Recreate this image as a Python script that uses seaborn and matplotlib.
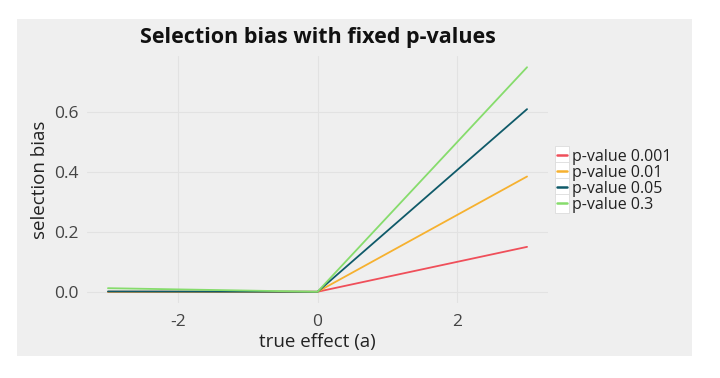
import matplotlib
matplotlib.use("Agg")
import matplotlib.pyplot as plt
import seaborn as sns
import pandas as pd
from matplotlib.patches import Rectangle
from matplotlib.lines import Line2D
from matplotlib.legend_handler import HandlerLine2D

# data
true_effect = [-3, 0, 3]
series_names = ["p-value 0.001", "p-value 0.01", "p-value 0.05", "p-value 0.3"]
bias_p0001 = [0.0, 0.0, 0.150]
bias_p001 = [0.0, 0.0, 0.385]
bias_p005 = [0.001, 0.0, 0.610]
bias_p03 = [0.012, 0.0, 0.750]
x_ticks = [-2, 0, 2]
y_ticks = [0.0, 0.2, 0.4, 0.6]
colors = ["#ef4f5a", "#f6b12f", "#0f5a69", "#86dc6c"]

rows = []
for name, vals in zip(series_names, [bias_p0001, bias_p001, bias_p005, bias_p03]):
    for x, y in zip(true_effect, vals):
        rows.append({"true effect (a)": x, "selection bias": y, "series": name})
df = pd.DataFrame(rows)

sns.set_theme(style="white")
plt.rcParams["font.family"] = ["Open Sans", "DejaVu Sans"]


class BoxLineHandler(HandlerLine2D):
    def create_artists(self, legend, orig_handle, xdescent, ydescent, width, height,
                       fontsize, trans):
        ext = 3.0
        rect = Rectangle((-xdescent, -ydescent - ext), width, height + 2 * ext,
                         facecolor="white", edgecolor="#dcdcdc", linewidth=0.6,
                         transform=trans)
        ymid = -ydescent + height / 2
        line = Line2D([-xdescent + width * 0.12, -xdescent + width * 0.88], [ymid, ymid],
                      color=orig_handle.get_color(), linewidth=1.8, transform=trans)
        return [rect, line]


bg = "#efefef"
fig = plt.figure(figsize=(7.2, 3.78), dpi=100, facecolor="white")
fig.patches.append(Rectangle((17 / 720, 1 - 356 / 378), (692 - 17) / 720, (356 - 19) / 378,
                             transform=fig.transFigure, facecolor=bg, edgecolor="none", zorder=-5))
ax = fig.add_axes([87 / 720, 1 - 303 / 378, 461 / 720, 247 / 378])
ax.set_facecolor(bg)

sns.lineplot(data=df, x="true effect (a)", y="selection bias", hue="series",
             hue_order=series_names, palette=colors, linewidth=1.3, ax=ax, legend=True)

ax.set_xlim(-3.3, 3.3)
ax.set_ylim(-0.0375, 0.7875)
ax.set_xticks(x_ticks)
ax.set_xticklabels([f"{t}" for t in x_ticks])
ax.set_yticks(y_ticks)
ax.set_yticklabels([f"{t:.1f}" for t in y_ticks])
ax.grid(True, color="#e2e2e2", linewidth=0.8)
ax.set_axisbelow(True)
for s in ax.spines.values():
    s.set_visible(False)
ax.tick_params(axis="x", length=0, labelsize=12.5, labelcolor="#444444", pad=8)
ax.tick_params(axis="y", length=0, labelsize=12.5, labelcolor="#444444", pad=6)
ax.set_xlabel("true effect (a)", fontsize=13.5, color="#222222", labelpad=2)
ax.set_ylabel("selection bias", fontsize=13.5, color="#222222", labelpad=4)

fig.text((87 + 548) / 2 / 720, 1 - 38 / 378, "Selection bias with fixed p-values",
         ha="center", va="center", fontsize=15.5, fontweight="bold", color="#111111")

handles, labels = ax.get_legend_handles_labels()
leg = ax.legend(handles, labels, loc="center left", bbox_to_anchor=(1.0, 0.494),
                frameon=False, fontsize=11.5, handlelength=0.85, handleheight=0.7,
                handletextpad=0.2, labelspacing=0.0, borderaxespad=0.45, borderpad=0.0,
                handler_map={Line2D: BoxLineHandler()})
for t in leg.get_texts():
    t.set_color("#222222")

fig.savefig("out.png", dpi=100, facecolor="white")
